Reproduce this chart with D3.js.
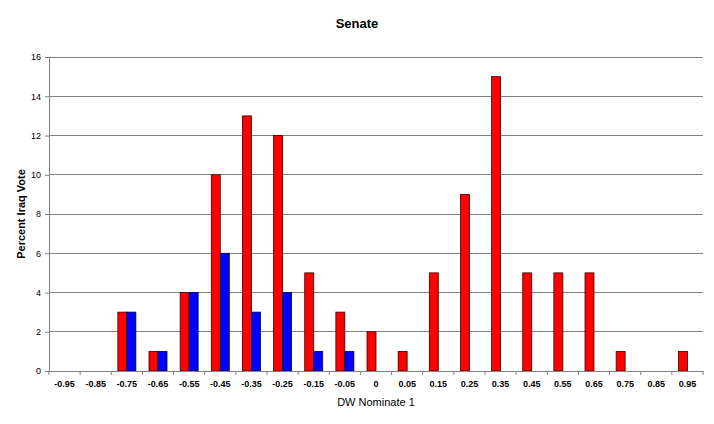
<!DOCTYPE html>
<html><head><meta charset="utf-8">
<script src="https://cdn.jsdelivr.net/npm/d3@7"></script>
<style>body{margin:0;background:#fff;}svg{display:block;font-family:"Liberation Sans",Arial,sans-serif;}</style>
</head><body><svg id="c" width="714" height="424"></svg>
<script>
const categories = ["-0.95","-0.85","-0.75","-0.65","-0.55","-0.45","-0.35","-0.25","-0.15","-0.05","0","0.05","0.15","0.25","0.35","0.45","0.55","0.65","0.75","0.85","0.95"];
const redValues  = [0,0,3,1,4,10,13,12,5,3,2,1,5,9,15,5,5,5,1,0,1];
const blueValues = [0,0,3,1,4,6,3,4,1,1,0,0,0,0,0,0,0,0,0,0,0];
const yTicks = [0,2,4,6,8,10,12,14,16];

const svg = d3.select("#c");
const m = {left:49, right:703, top:57, bottom:371};
const x = d3.scaleBand().domain(categories).range([m.left, m.right]).paddingInner(0).paddingOuter(0);
const y = d3.scaleLinear().domain([0,16]).range([m.bottom, m.top]);
const barW = 9;

// gridlines
svg.append("g").selectAll("line").data(yTicks.filter(d=>d>0)).join("line")
  .attr("x1", m.left).attr("x2", m.right).attr("y1", d=>y(d)).attr("y2", d=>y(d))
  .attr("stroke","#808080").attr("stroke-width",1).attr("shape-rendering","crispEdges");

// bars
const g = svg.append("g");
g.selectAll("rect.r").data(categories).join("rect").attr("class","r")
  .attr("x", (d)=>x(d)+x.bandwidth()/2-barW)
  .attr("y", (d,i)=>y(redValues[i]))
  .attr("width", barW)
  .attr("height", (d,i)=>y(0)-y(redValues[i]))
  .attr("fill","#ff0000").attr("stroke","#400000").attr("stroke-width",0.8)
  .style("display",(d,i)=>redValues[i]>0?null:"none");
g.selectAll("rect.b").data(categories).join("rect").attr("class","b")
  .attr("x", (d)=>x(d)+x.bandwidth()/2)
  .attr("y", (d,i)=>y(blueValues[i]))
  .attr("width", barW)
  .attr("height", (d,i)=>y(0)-y(blueValues[i]))
  .attr("fill","#0000ff").attr("stroke","#000040").attr("stroke-width",0.8)
  .style("display",(d,i)=>blueValues[i]>0?null:"none");

// y axis
const ya = svg.append("g").attr("transform",`translate(${m.left},0)`)
  .call(d3.axisLeft(y).tickValues(yTicks).tickSize(4).tickPadding(4).tickFormat(d3.format("d")));
ya.select(".domain").attr("stroke","#808080");
ya.selectAll(".tick line").attr("stroke","#808080");
ya.selectAll("text").attr("font-size",9).attr("fill","#000").attr("font-family","Liberation Sans, Arial");

// x axis
const xa = svg.append("g").attr("transform",`translate(0,${m.bottom})`)
  .call(d3.axisBottom(x).tickSize(0).tickPadding(10));
xa.select(".domain").attr("stroke","#808080");
xa.selectAll("text").attr("font-size",9).attr("font-weight","bold").attr("fill","#000").attr("font-family","Liberation Sans, Arial");
// boundary ticks
const bounds = categories.map(c=>x(c)).concat([m.right]);
xa.append("g").selectAll("line").data(bounds).join("line")
  .attr("x1",d=>d).attr("x2",d=>d).attr("y1",0).attr("y2",4).attr("stroke","#808080");

// titles
svg.append("text").attr("x",357).attr("y",28).attr("text-anchor","middle")
  .attr("font-size",13).attr("font-weight","bold").text("Senate");
svg.append("text").attr("x",376).attr("y",406).attr("text-anchor","middle")
  .attr("font-size",11).text("DW Nominate 1");
svg.append("text").attr("transform","translate(25,214) rotate(-90)").attr("text-anchor","middle")
  .attr("font-size",11).attr("font-weight","bold").text("Percent Iraq Vote");
</script></body></html>
